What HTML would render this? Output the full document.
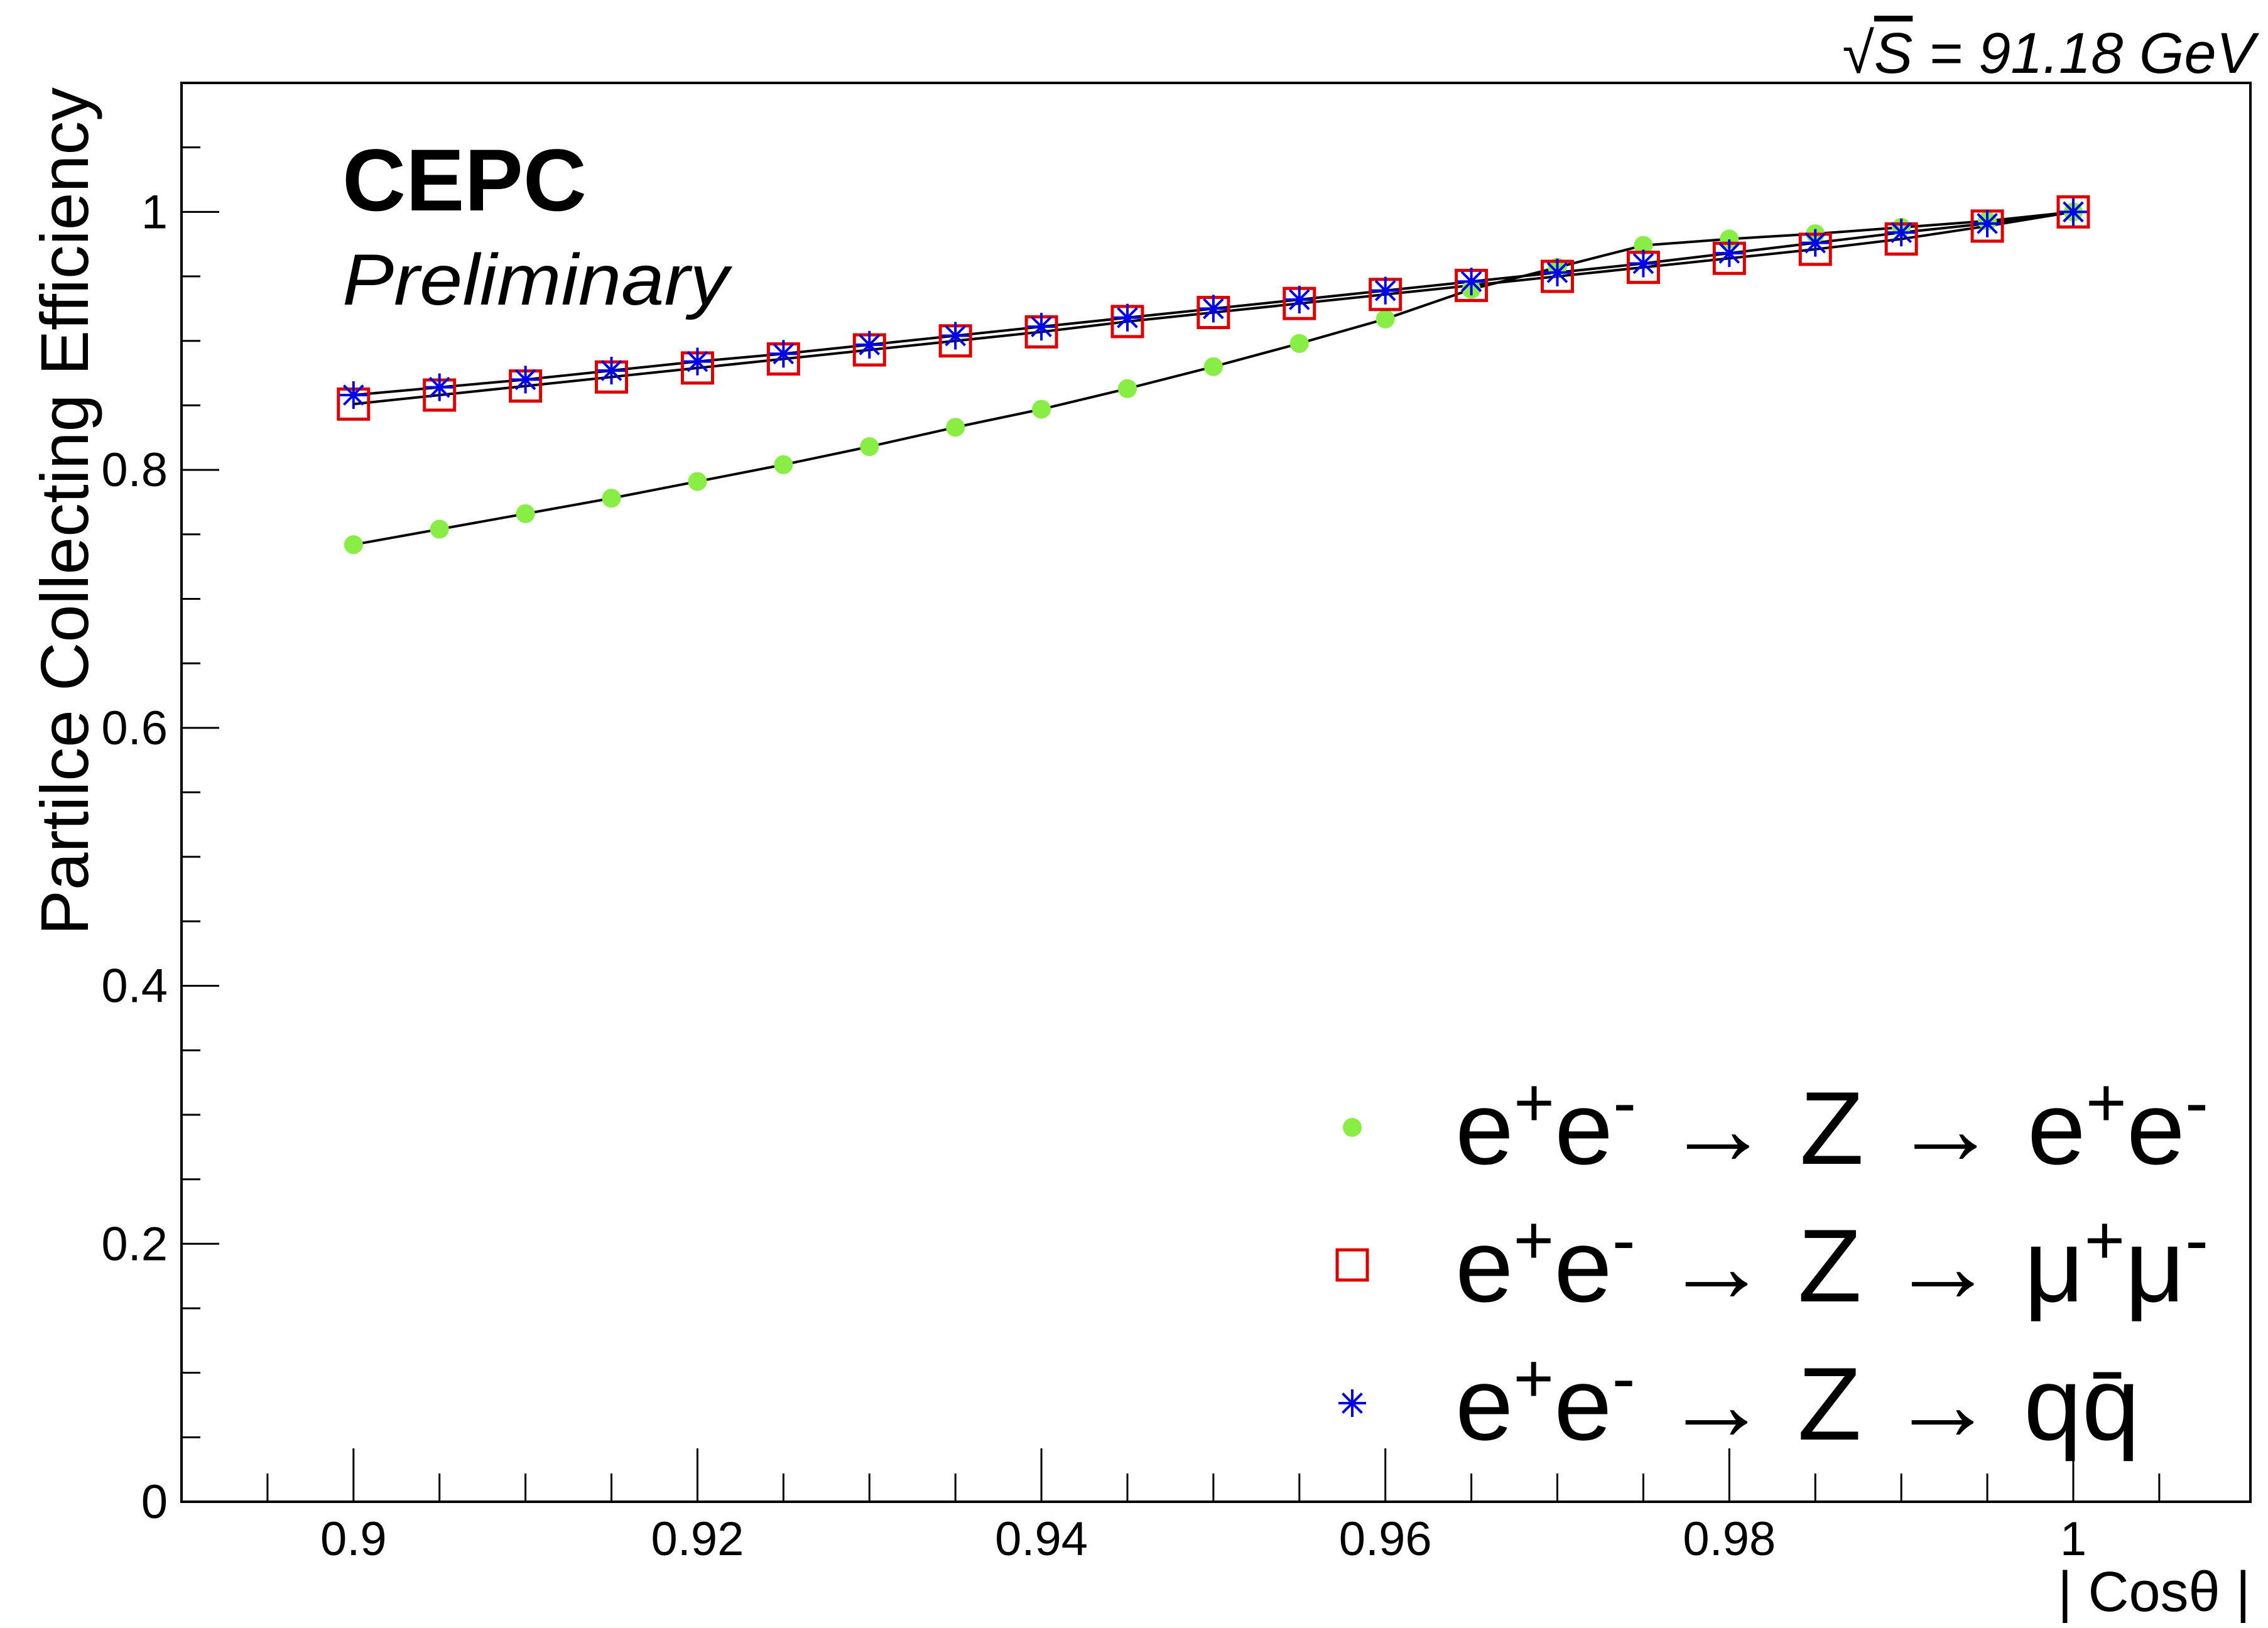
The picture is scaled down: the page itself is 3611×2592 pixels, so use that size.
<!DOCTYPE html>
<html><head><meta charset="utf-8"><style>
html,body{margin:0;padding:0;background:#fff;}
svg{display:block;font-family:"Liberation Sans",sans-serif;}
</style></head><body>
<svg id="chart" width="3611" height="2592" viewBox="0 0 3611 2592" xmlns="http://www.w3.org/2000/svg">
<rect x="0" y="0" width="3611" height="2592" fill="#fff"/>
<g id="ticks"></g>
<g id="lines"></g>
<g id="marks"></g>
<rect x="289" y="132" width="3294" height="2259" fill="none" stroke="#000" stroke-width="4"/>
<text x="3590" y="116" font-size="92" font-style="italic" text-anchor="end">√<tspan text-decoration="overline">S</tspan> = 91.18 GeV</text>
<text x="545" y="335" font-size="140" font-weight="bold">CEPC</text>
<text x="545" y="485" font-size="115" font-style="italic" textLength="615" lengthAdjust="spacingAndGlyphs">Preliminary</text>
<text x="3583" y="2565" font-size="90" text-anchor="end">| Cosθ |</text>
<text transform="translate(140,139) rotate(-90)" font-size="108" text-anchor="end" textLength="1350" lengthAdjust="spacingAndGlyphs">Partilce Collecting Efficiency</text>
<g id="legend"></g>
</svg>
<script>
const xValues=[0.9,0.905,0.91,0.915,0.92,0.925,0.93,0.935,0.94,0.945,0.95,0.955,0.96,0.965,0.97,0.975,0.98,0.985,0.99,0.995,1.0];
const eeValues=[0.742,0.754,0.766,0.778,0.791,0.804,0.818,0.833,0.847,0.863,0.880,0.898,0.917,0.940,0.957,0.974,0.979,0.983,0.988,0.993,1.0];
const mumuValues=[0.851,0.858,0.865,0.872,0.879,0.886,0.893,0.900,0.907,0.915,0.922,0.929,0.936,0.943,0.950,0.957,0.964,0.971,0.979,0.989,1.0];
const qqValues=[0.858,0.864,0.870,0.877,0.884,0.890,0.897,0.904,0.911,0.918,0.925,0.932,0.939,0.946,0.953,0.960,0.968,0.976,0.984,0.991,1.0];
const xTickLabels=["0.9","0.92","0.94","0.96","0.98","1"];
const yTickLabels=["0","0.2","0.4","0.6","0.8","1"];

const NS="http://www.w3.org/2000/svg";
const X0=289,X1=3583,Y0=2391,Y1=132;
const xMin=0.89,xMax=1.0103,yMin=0,yMax=1.1;
function sx(v){return X0+(v-xMin)/(xMax-xMin)*(X1-X0);}
function sy(v){return Y0-(v-yMin)/(yMax-yMin)*(Y0-Y1);}
function mk(tag,attrs,parent){const e=document.createElementNS(NS,tag);for(const k in attrs)e.setAttribute(k,attrs[k]);parent.appendChild(e);return e;}

const ticks=document.getElementById('ticks');
for(let i=0;i<=22;i++){const v=i*0.05;const major=(i%4===0);
 const t=mk('line',{x1:X0,x2:X0+(major?60:30),y1:sy(v),y2:sy(v),stroke:'#000','stroke-width':3},ticks);
 
 }
yTickLabels.forEach(s=>{const t=mk('text',{x:X0-22,y:sy(parseFloat(s))+26,'font-size':76,'text-anchor':'end'},ticks);t.textContent=s;
 
 });
for(let i=0;i<=24;i++){const v=0.89+i*0.005;if(v>1.0095)break;const major=(Math.round(v*1000)%20===0);
 const t=mk('line',{x1:sx(v),x2:sx(v),y1:Y0,y2:Y0-(major?85:45),stroke:'#000','stroke-width':3},ticks);
 
 }
xTickLabels.forEach(s=>{const t=mk('text',{x:sx(parseFloat(s)),y:2476,'font-size':76,'text-anchor':'middle'},ticks);t.textContent=s;
 
 });

const lines=document.getElementById('lines'),marks=document.getElementById('marks');
function drawLine(vals,name){const p=mk('polyline',{points:xValues.map((x,i)=>sx(x)+','+sy(vals[i])).join(' '),fill:'none',stroke:'#000','stroke-width':4},lines);
 
 }
drawLine(eeValues,'line-ee');drawLine(mumuValues,'line-mumu');drawLine(qqValues,'line-qq');
function circle(g,x,y,name){const c=mk('circle',{cx:x,cy:y,r:15,fill:'#88ee44'},g);
 
 }
function square(g,x,y,name){const c=mk('rect',{x:x-24,y:y-24,width:48,height:48,fill:'none',stroke:'#dd0000','stroke-width':5},g);
 
 }
function star(g,x,y,name){const r=22;const d=`M${x-r} ${y}H${x+r}M${x} ${y-r}V${y+r}M${x-r*0.7} ${y-r*0.7}L${x+r*0.7} ${y+r*0.7}M${x-r*0.7} ${y+r*0.7}L${x+r*0.7} ${y-r*0.7}`;
 const c=mk('path',{d:d,stroke:'#0000ee','stroke-width':4,fill:'none'},g);
 
 }
xValues.forEach((x,i)=>circle(marks,sx(x),sy(eeValues[i]),'point-ee'));
xValues.forEach((x,i)=>square(marks,sx(x),sy(mumuValues[i]),'point-mumu'));
xValues.forEach((x,i)=>star(marks,sx(x),sy(qqValues[i]),'point-qq'));

const lg=document.getElementById('legend');
const rows=[{y:1795,f:circle,n:'legend-ee',tail:['e','+','e','-'],w:1199},{y:2014,f:square,n:'legend-mumu',tail:['μ','+','μ','-'],w:1199},{y:2234,f:star,n:'legend-qq',tail:null,w:1090}];
rows.forEach(r=>{r.f(lg,2153,r.y,r.n+'-marker');
 const t=mk('text',{x:2317,y:r.y+58,'font-size':165,textLength:r.w,lengthAdjust:'spacingAndGlyphs'},lg);
 
 
 let h='e<tspan dy="-60" font-size="110">+</tspan><tspan dy="60">e</tspan><tspan dy="-60" font-size="110">-</tspan><tspan dy="60"> → Z → </tspan>';
 if(r.tail)h+=r.tail[0]+'<tspan dy="-60" font-size="110">'+r.tail[1]+'</tspan><tspan dy="60">'+r.tail[2]+'</tspan><tspan dy="-60" font-size="110">'+r.tail[3]+'</tspan>';
 else h+='qq\u0304';
 t.innerHTML=h;});
</script>
</body></html>
